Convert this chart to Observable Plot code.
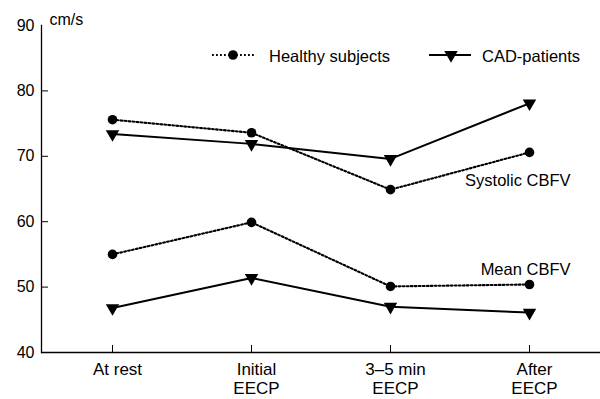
<!DOCTYPE html>
<html>
<head>
<meta charset="utf-8">
<script src="https://cdn.jsdelivr.net/npm/d3@7"></script>
<script src="https://cdn.jsdelivr.net/npm/@observablehq/plot@0.6"></script>
<style>
  html, body { margin: 0; padding: 0; background: #fff; }
  #chart { position: relative; width: 600px; height: 399px; }
  svg { font-family: "Liberation Sans", Arial, Helvetica, sans-serif; }
</style>
</head>
<body>
<div id="chart"></div>
<script>
const categories = ["At rest", "Initial\nEECP", "3\u20135 min\nEECP", "After\nEECP"];
const healthySystolic = [75.6, 73.6, 64.9, 70.6];
const cadSystolic = [73.4, 71.9, 69.6, 78.1];
const healthyMean = [55.0, 59.9, 50.1, 50.4];
const cadMean = [46.8, 51.4, 47.0, 46.1];
const yTicks = [40, 50, 60, 70, 80, 90];
const yUnit = "cm/s";
const annotations = [
  {label: "Systolic CBFV", value: 66.3},
  {label: "Mean CBFV", value: 52.7}
];
const legendItems = [
  {label: "Healthy subjects", group: "healthy"},
  {label: "CAD-patients", group: "cad"}
];

const rows = [];
const addSeries = (vals, group, measure) =>
  vals.forEach((v, i) => rows.push({cat: categories[i], value: v, group, measure, key: group + "-" + measure}));
addSeries(healthySystolic, "healthy", "systolic");
addSeries(cadSystolic, "cad", "systolic");
addSeries(healthyMean, "healthy", "mean");
addSeries(cadMean, "cad", "mean");

const healthy = rows.filter(d => d.group === "healthy");
const cad = rows.filter(d => d.group === "cad");
const lastCat = categories[categories.length - 1];

const W = 600, H = 399;
const mL = 41, mR = 0, mT = 25, mB = 47;
const plotW = W - mL - mR, plotH = H - mT - mB;
const dotted = "1.8,2.2";

const chart = Plot.plot({
  width: W,
  height: H,
  marginLeft: mL,
  marginRight: mR,
  marginTop: mT,
  marginBottom: mB,
  style: {fontFamily: '"Liberation Sans", Arial, Helvetica, sans-serif', background: "#fff", color: "#000", overflow: "visible"},
  x: {type: "point", domain: categories, padding: 0.5},
  y: {domain: [40, 90]},
  marks: [
    Plot.axisY({ticks: yTicks, tickSize: 0, tickPadding: 7, fontSize: 16, label: null}),
    Plot.axisX({tickSize: 0, tickPadding: 9, fontSize: 17, dx: 5, label: null, lineHeight: 1.12}),
    Plot.tickY(yTicks.slice(1, -1), {y: d => d, insetRight: plotW - 7, stroke: "#000", strokeWidth: 1}),
    Plot.tickX(categories, {x: d => d, insetTop: plotH - 7, stroke: "#000", strokeWidth: 1}),
    Plot.frame({anchor: "left", stroke: "#000", strokeWidth: 1.3}),
    Plot.ruleY([40], {stroke: "#000", strokeWidth: 1.3}),
    Plot.line(healthy, {x: "cat", y: "value", z: "key", stroke: "#000", strokeWidth: 2.1, strokeDasharray: dotted}),
    Plot.line(cad, {x: "cat", y: "value", z: "key", stroke: "#000", strokeWidth: 2}),
    Plot.dot(healthy, {x: "cat", y: "value", r: 4.8, fill: "#000", stroke: "none"}),
    Plot.dot(cad, {x: "cat", y: "value", symbol: "triangle", rotate: 180, r: 5, fill: "#000", stroke: "none"}),
    Plot.text(annotations, {x: () => lastCat, y: "value", text: "label", textAnchor: "end", dx: 41, fontSize: 16.5, fill: "#000"}),
    Plot.text([yUnit], {frameAnchor: "top-left", text: d => d, dx: 8, dy: -12, fontSize: 16, textAnchor: "start", fill: "#000"})
  ]
});

// Legend inside the plot area
const svg = d3.select(chart);
const lg = svg.append("g").attr("font-size", 16.5).attr("fill", "#000").attr("text-anchor", "start");
const legendLayout = [
  {x0: 212, x1: 256, mx: 233, tx: 269},
  {x0: 429, x1: 471, mx: 451, tx: 482}
];
const ly = 55;
legendItems.forEach((item, i) => {
  const p = legendLayout[i];
  lg.append("line").attr("x1", p.x0).attr("x2", p.x1).attr("y1", ly).attr("y2", ly)
    .attr("stroke", "#000")
    .attr("stroke-width", item.group === "healthy" ? 2.1 : 2)
    .attr("stroke-dasharray", item.group === "healthy" ? dotted : null);
  if (item.group === "healthy") {
    lg.append("circle").attr("cx", p.mx).attr("cy", ly).attr("r", 4.8).attr("fill", "#000");
  } else {
    lg.append("path").attr("transform", `translate(${p.mx},${ly}) rotate(180)`)
      .attr("d", d3.symbol(d3.symbolTriangle, 5 * 5 * Math.PI)()).attr("fill", "#000");
  }
  lg.append("text").attr("x", p.tx).attr("y", ly + 2).attr("dy", "0.32em").attr("text-anchor", "start").text(item.label);
});

document.getElementById("chart").appendChild(chart);
</script>
</body>
</html>
